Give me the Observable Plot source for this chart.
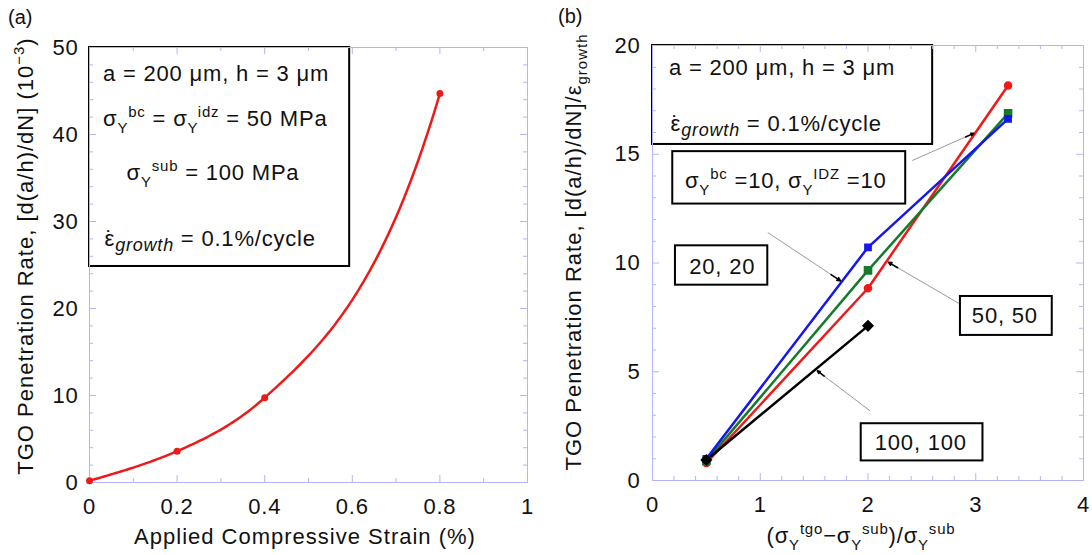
<!DOCTYPE html>
<html><head><meta charset="utf-8">
<script src="https://cdn.jsdelivr.net/npm/d3@7"></script>
<script src="https://cdn.jsdelivr.net/npm/@observablehq/plot@0.6"></script>
<style>
body{margin:0;background:#fff;}
#wrap{position:relative;width:1092px;height:555px;overflow:hidden;background:#fff;}
.panel{position:absolute;top:0;width:546px;height:555px;}
</style></head><body>
<div id="wrap"><div id="pa" class="panel" style="left:0"></div><div id="pb" class="panel" style="left:546px"></div></div>
<script>
// ---------- data: panel (a) ----------
const strainA = [0, 0.2, 0.4, 0.8];
const rateA   = [0.2, 3.6, 9.75, 44.7];
const xTicksA = [0, 0.2, 0.4, 0.6, 0.8, 1];
const yTicksA = [0, 10, 20, 30, 40, 50];

// ---------- data: panel (b) ----------
const ratioB   = [0.5, 2, 3.3];
const rate10   = [0.8, 8.84, 18.16];   // red   (10, 10)
const rate20   = [1.0, 10.72, 16.63];  // blue  (20, 20)
const rate50   = [0.9, 9.66, 16.88];   // green (50, 50)
const ratio100 = [0.5, 2];
const rate100  = [0.94, 7.11];         // black (100, 100)
const xTicksB = [0, 1, 2, 3, 4];
const yTicksB = [0, 5, 10, 15, 20];

// annotation boxes / labels / arrows (data coordinates)
const boxA = [{x1: 0, x2: 0.594, y1: 24.83, y2: 50}];
const boxesB = [
  {x1: 0, x2: 2.60, y1: 15.45, y2: 20},
  {x1: 0.188, x2: 2.35, y1: 12.71, y2: 15.12},
  {x1: 0.213, x2: 1.07, y1: 8.98, y2: 10.79},
  {x1: 2.858, x2: 3.71, y1: 6.67, y2: 8.46},
  {x1: 1.937, x2: 3.067, y1: 0.90, y2: 2.61}
];
const labelsB = [
  {x: 0.647, y: 9.83, text: "20, 20"},
  {x: 3.27, y: 7.57, text: "50, 50"},
  {x: 2.49, y: 1.74, text: "100, 100"}
];
const arrowsB = [
  {x1: 2.41, y1: 14.71, x2: 2.98, y2: 15.96},
  {x1: 1.07, y1: 11.40, x2: 1.745, y2: 9.18},
  {x1: 2.845, y1: 8.14, x2: 2.19, y2: 10.03},
  {x1: 2.02, y1: 3.20, x2: 1.53, y2: 5.04}
];

const FONT = '"Liberation Sans", Arial, Helvetica, sans-serif';
const FRAME = "#b4b4f2";
const RED = "#ee1a1a", BLUE = "#1616ee", GREEN = "#167a2c", BLACK = "#000";
const FS = 22, LS = "0.8px";

const seriesB = [
  {xs: ratioB, ys: rate10, color: RED, symbol: "circle", r: 3.5},
  {xs: ratioB, ys: rate50, color: GREEN, symbol: "square", r: 4},
  {xs: ratioB, ys: rate20, color: BLUE, symbol: "square", r: 3.5},
  {xs: ratio100, ys: rate100, color: BLACK, symbol: "diamond2", r: 4.5}
];

function rows(xs, ys) { return xs.map((x, i) => ({x, y: ys[i]})); }

function tickMarks(xs, ys, fw, fh, len) {
  const o = {stroke: FRAME, strokeWidth: 1};
  return [
    Plot.ruleX(xs, {x: d => d, insetTop: fh - len, ...o}),
    Plot.ruleX(xs, {x: d => d, insetBottom: fh - len, ...o}),
    Plot.ruleY(ys, {y: d => d, insetRight: fw - len, ...o}),
    Plot.ruleY(ys, {y: d => d, insetLeft: fw - len, ...o})
  ];
}
function minors(lo, hi, step, majors) {
  return d3.range(lo, hi + step / 2, step).map(v => +v.toFixed(6)).filter(v => !majors.some(m => Math.abs(m - v) < 1e-6));
}

// smooth Hermite curve (pixel space) with harmonic interior tangents and a growth-rate end tangent
function growthCurve(Y0) {
  return function(context) {
    let pts;
    return {
      areaStart() {}, areaEnd() {},
      lineStart() { pts = []; },
      point(x, y) { pts.push([+x, +y]); },
      lineEnd() {
        const n = pts.length;
        if (!n) return;
        const X = pts.map(p => p[0]), V = pts.map(p => Y0 - p[1]);
        context.moveTo(X[0], pts[0][1]);
        if (n < 3) { for (let i = 1; i < n; i++) context.lineTo(X[i], pts[i][1]); return; }
        const s = [];
        for (let i = 0; i < n - 1; i++) s.push((V[i + 1] - V[i]) / (X[i + 1] - X[i]));
        const m = new Array(n);
        for (let i = 1; i < n - 1; i++) m[i] = s[i - 1] * s[i] > 0 ? 2 * s[i - 1] * s[i] / (s[i - 1] + s[i]) : 0;
        m[0] = (3 * s[0] - m[1]) / 2;
        const h = X[n - 1] - X[n - 2];
        m[n - 1] = (V[n - 1] > 0 && V[n - 2] > 0) ? V[n - 1] * Math.log(V[n - 1] / V[n - 2]) / h : s[n - 2];
        for (let i = 0; i < n - 1; i++) {
          const hh = X[i + 1] - X[i];
          for (let k = 1; k <= 30; k++) {
            const t = k / 30, t2 = t * t, t3 = t2 * t;
            const v = (2 * t3 - 3 * t2 + 1) * V[i] + (t3 - 2 * t2 + t) * hh * m[i] + (-2 * t3 + 3 * t2) * V[i + 1] + (t3 - t2) * hh * m[i + 1];
            context.lineTo(X[i] + t * hh, Y0 - v);
          }
        }
      }
    };
  };
}

// rich text: parts = [[string, mode, dx]]
function rich(parent, x, y, parts, {anchor = "start", size = FS, rotate = 0, ls = LS} = {}) {
  const t = d3.select(parent).append("text")
    .attr("text-anchor", anchor)
    .attr("font-size", size)
    .attr("font-family", FONT)
    .attr("fill", "#111")
    .attr("letter-spacing", ls)
    .attr("transform", `translate(${x},${y})` + (rotate ? ` rotate(${rotate})` : ""));
  let cur = 0;
  for (const [s, mode, dx] of parts) {
    let shift = 0, fs = null, it = false;
    if (mode === "sup") { shift = -9; fs = 15; }
    else if (mode === "sub") { shift = 7; fs = 15; }
    else if (mode === "lowit") { shift = 5; fs = 18; it = true; }
    else if (mode === "sub2") { shift = 6; fs = 15; }
    const ts = t.append("tspan").attr("dy", shift - cur).text(s);
    if (dx) ts.attr("dx", dx);
    if (fs) ts.attr("font-size", fs);
    if (it) ts.attr("font-style", "italic");
    cur = shift;
  }
  return t;
}
const EPS = [["\u02D9", "n", 1.5], ["ε", "n", -9]];

// ---------- panel (a) ----------
const mTA = 47, mBA = 73;
const fwA = 546 - 89 - 19, fhA = 555 - mTA - mBA;
const plotA = Plot.plot({
  width: 546, height: 555,
  marginLeft: 89, marginRight: 19, marginTop: mTA, marginBottom: mBA,
  x: {domain: [0, 1]}, y: {domain: [0, 50]},
  style: {fontFamily: FONT, fontSize: FS + "px", color: "#111", background: "white", overflow: "visible", letterSpacing: LS},
  marks: [
    Plot.rect(boxA, {x1: "x1", x2: "x2", y1: "y1", y2: "y2", fill: "white", stroke: "black", strokeWidth: 2}),
    Plot.frame({stroke: FRAME, strokeWidth: 1}),
    ...tickMarks(xTicksA, yTicksA, fwA, fhA, 7),
    ...tickMarks(minors(0, 1, 0.1, xTicksA), minors(0, 50, 2, yTicksA), fwA, fhA, 4),
    Plot.axisX(xTicksA, {tickSize: 0, tickPadding: 16, label: null, fill: "#111", tickFormat: d => String(d)}),
    Plot.axisY(yTicksA, {tickSize: 0, tickPadding: 11, label: null, fill: "#111", tickFormat: d => String(d)}),
    Plot.line(rows(strainA, rateA), {x: "x", y: "y", stroke: RED, strokeWidth: 2.5, curve: growthCurve(555 - mBA)}),
    Plot.dot(rows(strainA, rateA), {x: "x", y: "y", fill: RED, r: 3.5})
  ]
});
document.getElementById("pa").appendChild(plotA);
{
  const sx = plotA.scale("x").apply, sy = plotA.scale("y").apply;
  rich(plotA, sx(0.032), sy(46.98) + 7.9, [["a = 200 μm, h = 3 μm"]]);
  rich(plotA, sx(0.032), sy(41.8) + 7.9, [["σ"], ["Y", "sub"], ["bc", "sup"], [" = σ"], ["Y", "sub"], ["idz", "sup"], [" = 50 MPa"]]);
  rich(plotA, sx(0.283), sy(35.67) + 7.9, [["σ"], ["Y", "sub"], ["sub", "sup"], [" = 100 MPa"]], {anchor: "middle"});
  rich(plotA, sx(0.032), sy(28.0) + 7.9, [...EPS, ["growth", "lowit"], [" = 0.1%/cycle"]]);
  rich(plotA, 305, 544, [["Applied Compressive Strain (%)"]], {anchor: "middle", ls: "1px"});
  rich(plotA, 33, 256, [["TGO Penetration Rate, [d(a/h)/dN] (10"], ["−3", "sup"], [")"]], {anchor: "middle", rotate: -90, ls: "1px"});
  rich(plotA, 8, 24, [["(a)"]], {size: 20, ls: "0px"});
}

// ---------- panel (b) ----------
const mLB = 106, mRB = 9, mTB = 45, mBB = 75;
const fwB = 546 - mLB - mRB, fhB = 555 - mTB - mBB;
const marksB = [
  Plot.rect(boxesB, {x1: "x1", x2: "x2", y1: "y1", y2: "y2", fill: "white", stroke: "black", strokeWidth: 2}),
  Plot.frame({stroke: FRAME, strokeWidth: 1}),
  ...tickMarks(xTicksB, yTicksB, fwB, fhB, 7),
  ...tickMarks(minors(0, 4, 0.2, xTicksB), minors(0, 20, 1, yTicksB), fwB, fhB, 4),
  Plot.axisX(xTicksB, {tickSize: 0, tickPadding: 16, label: null, fill: "#111", tickFormat: d => String(d)}),
  Plot.axisY(yTicksB, {tickSize: 0, tickPadding: 12, label: null, fill: "#111", tickFormat: d => String(d)}),
  Plot.text(labelsB, {x: "x", y: "y", text: "text", fontSize: FS, fill: "#111", lineAnchor: "middle"})
];
for (const s of seriesB) {
  marksB.push(Plot.line(rows(s.xs, s.ys), {x: "x", y: "y", stroke: s.color, strokeWidth: 2.5}));
}
for (const s of seriesB) {
  marksB.push(Plot.dot(rows(s.xs, s.ys), {x: "x", y: "y", fill: s.color, stroke: s.color, symbol: s.symbol, r: s.r}));
}
marksB.push(
  Plot.link(arrowsB, {x1: "x1", y1: "y1", x2: "x2", y2: "y2", stroke: "#9a9a9a", strokeWidth: 1}),
  Plot.arrow(arrowsB, {
    x1: d => d.x2 - 0.13 * (d.x2 - d.x1), y1: d => d.y2 - 0.13 * (d.y2 - d.y1),
    x2: "x2", y2: "y2", stroke: "#000", strokeWidth: 1.6, headLength: 9, headAngle: 50
  })
);
const plotB = Plot.plot({
  width: 546, height: 555,
  marginLeft: mLB, marginRight: mRB, marginTop: mTB, marginBottom: mBB,
  x: {domain: [0, 4]}, y: {domain: [0, 20]},
  style: {fontFamily: FONT, fontSize: FS + "px", color: "#111", background: "white", overflow: "visible", letterSpacing: LS},
  marks: marksB
});
document.getElementById("pb").appendChild(plotB);
{
  const sx = plotB.scale("x").apply, sy = plotB.scale("y").apply;
  rich(plotB, sx(0.158), sy(19.0) + 7.9, [["a = 200 μm, h = 3 μm"]]);
  rich(plotB, sx(0.158), sy(16.4) + 7.9, [...EPS, ["growth", "lowit"], [" = 0.1%/cycle"]]);
  rich(plotB, sx(0.306), sy(13.79) + 7.9, [["σ"], ["Y", "sub"], ["bc", "sup"], [" =10, σ"], ["Y", "sub"], ["IDZ", "sup"], [" =10"]]);
  rich(plotB, 315, 543, [["(σ"], ["Y", "sub"], ["tgo", "sup"], ["−σ"], ["Y", "sub"], ["sub", "sup"], [")/σ"], ["Y", "sub"], ["sub", "sup"]], {anchor: "middle"});
  rich(plotB, 35, 252, [["TGO Penetration Rate, [d(a/h)/dN]/ε"], ["growth", "sub2"]], {anchor: "middle", rotate: -90, ls: "1px"});
  rich(plotB, 12, 23, [["(b)"]], {size: 20, ls: "0px"});
}
</script>
</body></html>
